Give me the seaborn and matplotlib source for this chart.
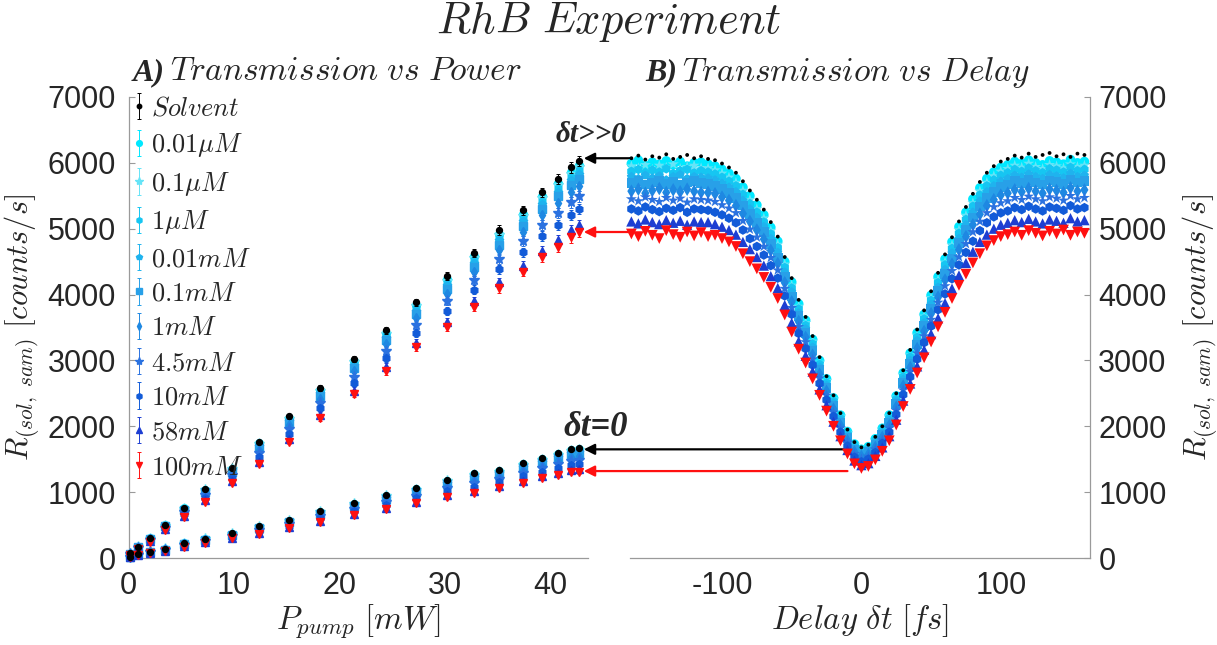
import numpy as np
import pandas as pd
import matplotlib
matplotlib.use("Agg")
import matplotlib.pyplot as plt
import seaborn as sns

# ---------------- data ----------------
labels = [r'$Solvent$', r'$0.01\mu M$', r'$0.1\mu M$', r'$1\mu M$', r'$0.01mM$', r'$0.1mM$',
          r'$1mM$', r'$4.5mM$', r'$10mM$', r'$58mM$', r'$100mM$']
colors = ['black', '#00e8ff', '#66e4f7', '#16c6f2', '#1fb3ee', '#28a0e8',
          '#1e88e2', '#2b72e0', '#125bd8', '#1d3ed2', '#ff1010']
markers = ['.', 'o', '*', 'h', 'p', 's', 'd', '*', 'h', '^', 'v']

# Panel A: pump power [mW]
power = [0.1, 0.9, 2.0, 3.5, 5.3, 7.3, 9.8, 12.4, 15.2, 18.2, 21.4, 24.4, 27.3, 30.2,
         32.8, 35.2, 37.4, 39.2, 40.8, 42.0, 42.7]
err_high = [10, 10, 15, 15, 20, 25, 30, 35, 40, 45, 50, 55, 60, 60, 65, 70, 70, 75, 75, 80, 80]
err_low = [5, 5, 8, 8, 10, 10, 12, 14, 15, 18, 20, 22, 24, 25, 26, 28, 30, 30, 32, 32, 34]

# delay >> 0
high_solvent = [70, 170, 300, 500, 760, 1050, 1370, 1760, 2150, 2580, 3020, 3460, 3880, 4280, 4630, 4980, 5280, 5550, 5750, 5930, 6030]
high_001uM = [68, 168, 297, 495, 752, 1038, 1356, 1740, 2127, 2553, 2988, 3423, 3839, 4234, 4581, 4927, 5224, 5491, 5688, 5866, 5965]
high_01uM = [68, 167, 295, 493, 748, 1032, 1349, 1730, 2115, 2539, 2972, 3404, 3819, 4211, 4557, 4901, 5196, 5462, 5657, 5835, 5933]
high_1uM = [67, 165, 293, 490, 742, 1025, 1340, 1716, 2100, 2521, 2951, 3379, 3792, 4180, 4524, 4866, 5158, 5423, 5616, 5792, 5890]
high_001mM = [66, 164, 291, 487, 736, 1015, 1329, 1700, 2081, 2498, 2925, 3348, 3758, 4141, 4483, 4822, 5112, 5374, 5565, 5739, 5836]
high_01mM = [64, 161, 288, 481, 726, 1001, 1313, 1676, 2054, 2466, 2888, 3305, 3710, 4088, 4426, 4760, 5046, 5305, 5493, 5665, 5760]
high_1mM = [61, 158, 283, 474, 713, 982, 1290, 1643, 2015, 2421, 2835, 3243, 3642, 4010, 4345, 4672, 4953, 5207, 5390, 5559, 5652]
high_45mM = [58, 153, 275, 463, 693, 953, 1255, 1593, 1958, 2353, 2755, 3150, 3540, 3895, 4223, 4540, 4813, 5060, 5235, 5400, 5490]
high_10mM = [53, 146, 266, 449, 668, 917, 1214, 1532, 1888, 2271, 2660, 3038, 3418, 3756, 4076, 4382, 4644, 4884, 5050, 5209, 5296]
high_58mM = [48, 139, 255, 433, 639, 875, 1163, 1459, 1804, 2171, 2543, 2902, 3268, 3587, 3897, 4188, 4439, 4668, 4823, 4976, 5058]
high_100mM = [45, 135, 250, 425, 625, 855, 1140, 1425, 1765, 2125, 2490, 2840, 3200, 3510, 3815, 4100, 4345, 4570, 4720, 4870, 4950]

# delay = 0
low_solvent = [20, 60, 95, 135, 225, 290, 375, 485, 575, 715, 830, 955, 1060, 1185, 1290, 1335, 1440, 1515, 1600, 1655, 1670]
low_001uM = [20, 59, 94, 133, 222, 286, 370, 478, 568, 705, 819, 942, 1046, 1170, 1272, 1319, 1422, 1497, 1580, 1634, 1648]
low_01uM = [20, 59, 93, 132, 220, 285, 368, 474, 564, 700, 814, 936, 1039, 1162, 1263, 1310, 1413, 1488, 1569, 1623, 1638]
low_1uM = [19, 58, 92, 131, 218, 282, 365, 469, 559, 694, 807, 928, 1030, 1152, 1250, 1299, 1402, 1475, 1556, 1609, 1623]
low_001mM = [19, 57, 91, 130, 215, 279, 362, 463, 553, 685, 798, 917, 1019, 1139, 1235, 1286, 1387, 1460, 1539, 1591, 1605]
low_01mM = [19, 56, 90, 128, 211, 275, 356, 455, 545, 674, 785, 903, 1003, 1121, 1214, 1266, 1366, 1439, 1515, 1566, 1580]
low_1mM = [18, 55, 88, 125, 206, 269, 349, 443, 533, 657, 767, 882, 980, 1096, 1183, 1239, 1337, 1408, 1481, 1531, 1544]
low_45mM = [18, 53, 85, 120, 198, 260, 338, 425, 515, 633, 740, 850, 945, 1058, 1138, 1198, 1293, 1363, 1430, 1478, 1490]
low_10mM = [17, 50, 81, 115, 188, 249, 324, 403, 493, 603, 708, 812, 904, 1012, 1083, 1148, 1239, 1308, 1369, 1414, 1425]
low_58mM = [16, 47, 77, 108, 176, 236, 308, 377, 467, 566, 668, 766, 853, 956, 1016, 1088, 1174, 1241, 1294, 1335, 1346]
low_100mM = [15, 45, 75, 105, 170, 230, 300, 365, 455, 550, 650, 745, 830, 930, 985, 1060, 1145, 1210, 1260, 1300, 1310]

# Panel B: delay scan [fs]
delay = list(range(-165, 161, 5))
d_solvent = [6070, 6110, 6050, 6100, 6080, 6130, 6060, 6090, 6120, 6070, 6100,
             6060, 6040, 5990, 5930, 5850, 5720, 5580, 5440, 5290, 5100, 4880, 4570, 4250, 3920, 3660,
             3370, 3050, 2760, 2470, 2200, 1950, 1760, 1680, 1720, 1840, 2000, 2200, 2500, 2850, 3160,
             3470, 3760, 4050, 4330, 4610, 4870, 5110, 5330, 5530, 5710, 5850, 5950, 6020, 6060,
             6110, 6080, 6140, 6090, 6120, 6150, 6100, 6130, 6090, 6140, 6120]
d_001uM = [5990, 6040, 5960, 6010, 5980, 6030, 5970, 6020, 5950, 6000, 6010,
           5980, 5950, 5900, 5840, 5760, 5630, 5500, 5360, 5210, 5020, 4810, 4500, 4190, 3860, 3610,
           3320, 3000, 2720, 2430, 2170, 1920, 1730, 1650, 1690, 1810, 1970, 2170, 2460, 2810, 3110,
           3420, 3700, 3990, 4270, 4540, 4800, 5030, 5250, 5450, 5620, 5760, 5860, 5930, 5970,
           6020, 5990, 6040, 6000, 5970, 6030, 6010, 5980, 6050, 6000, 6020]
d_01uM = [5950, 5920, 5970, 5900, 5960, 5930, 5980, 5910, 5940, 5960, 5920,
          5920, 5890, 5840, 5780, 5700, 5580, 5440, 5300, 5160, 4970, 4760, 4460, 4140, 3820, 3570,
          3290, 2970, 2690, 2410, 2150, 1900, 1720, 1640, 1680, 1790, 1950, 2150, 2440, 2780, 3080,
          3380, 3670, 3950, 4220, 4490, 4750, 4980, 5200, 5390, 5570, 5700, 5800, 5870, 5910,
          5960, 5930, 5990, 5940, 5910, 5970, 5950, 5920, 5980, 5940, 5960]
d_1uM = [5870, 5900, 5850, 5890, 5860, 5910, 5840, 5880, 5900, 5850, 5880,
         5860, 5830, 5780, 5720, 5650, 5520, 5380, 5250, 5100, 4920, 4710, 4410, 4100, 3780, 3530,
         3250, 2940, 2660, 2380, 2120, 1880, 1700, 1620, 1660, 1780, 1930, 2120, 2410, 2750, 3050,
         3350, 3630, 3910, 4180, 4450, 4700, 4930, 5140, 5340, 5510, 5650, 5740, 5810, 5850,
         5900, 5870, 5920, 5880, 5850, 5910, 5890, 5860, 5930, 5880, 5900]
d_001mM = [5790, 5760, 5810, 5770, 5800, 5740, 5790, 5820, 5760, 5790, 5780,
           5770, 5740, 5690, 5630, 5560, 5430, 5300, 5170, 5030, 4850, 4640, 4340, 4040, 3720, 3480,
           3200, 2900, 2620, 2350, 2090, 1850, 1670, 1600, 1630, 1750, 1900, 2090, 2380, 2710, 3000,
           3300, 3570, 3850, 4110, 4380, 4630, 4850, 5060, 5250, 5420, 5560, 5650, 5720, 5760,
           5810, 5780, 5830, 5790, 5760, 5820, 5800, 5770, 5840, 5790, 5810]
d_01mM = [5690, 5720, 5670, 5700, 5730, 5680, 5710, 5660, 5700, 5720, 5690,
          5680, 5650, 5600, 5540, 5470, 5350, 5220, 5090, 4950, 4770, 4560, 4270, 3970, 3670, 3420,
          3150, 2850, 2580, 2310, 2060, 1820, 1650, 1570, 1610, 1720, 1870, 2060, 2340, 2660, 2950,
          3240, 3520, 3790, 4050, 4310, 4550, 4780, 4980, 5170, 5340, 5470, 5560, 5630, 5670,
          5720, 5690, 5740, 5700, 5670, 5730, 5710, 5680, 5750, 5700, 5720]
d_1mM = [5570, 5600, 5540, 5580, 5610, 5550, 5590, 5560, 5600, 5570, 5550,
         5550, 5530, 5480, 5430, 5350, 5230, 5110, 4980, 4840, 4670, 4470, 4180, 3890, 3590, 3350,
         3080, 2790, 2530, 2260, 2010, 1780, 1610, 1540, 1570, 1680, 1830, 2010, 2290, 2610, 2890,
         3180, 3440, 3710, 3960, 4220, 4460, 4680, 4880, 5060, 5220, 5350, 5440, 5510, 5540,
         5590, 5560, 5610, 5570, 5540, 5600, 5580, 5550, 5620, 5570, 5590]
d_45mM = [5450, 5420, 5480, 5440, 5410, 5470, 5430, 5460, 5400, 5450, 5440,
          5430, 5410, 5360, 5310, 5240, 5120, 4990, 4870, 4730, 4560, 4370, 4090, 3800, 3510, 3280,
          3020, 2730, 2470, 2210, 1970, 1750, 1580, 1500, 1540, 1650, 1790, 1970, 2240, 2550, 2830,
          3110, 3370, 3620, 3880, 4130, 4360, 4570, 4770, 4950, 5110, 5240, 5330, 5390, 5420,
          5470, 5440, 5490, 5450, 5420, 5480, 5460, 5430, 5500, 5450, 5470]
d_10mM = [5300, 5270, 5330, 5290, 5260, 5310, 5280, 5320, 5250, 5300, 5290,
          5280, 5250, 5210, 5160, 5090, 4980, 4850, 4730, 4600, 4440, 4250, 3980, 3700, 3410, 3180,
          2930, 2650, 2400, 2150, 1910, 1700, 1530, 1460, 1500, 1600, 1740, 1910, 2180, 2480, 2750,
          3020, 3270, 3520, 3770, 4010, 4240, 4450, 4640, 4810, 4970, 5090, 5180, 5240, 5270,
          5320, 5290, 5340, 5300, 5270, 5330, 5310, 5280, 5350, 5300, 5320]
d_58mM = [5110, 5080, 5140, 5100, 5070, 5130, 5090, 5120, 5060, 5110, 5100,
          5100, 5070, 5030, 4980, 4910, 4800, 4690, 4570, 4440, 4280, 4100, 3840, 3570, 3290, 3070,
          2830, 2560, 2320, 2070, 1850, 1640, 1480, 1410, 1440, 1550, 1680, 1850, 2100, 2390, 2650,
          2910, 3160, 3400, 3640, 3870, 4090, 4290, 4480, 4650, 4800, 4910, 5000, 5060, 5090,
          5130, 5100, 5150, 5110, 5080, 5140, 5120, 5090, 5160, 5110, 5130]
d_100mM = [4920, 4880, 4960, 4900, 4850, 4970, 4910, 4870, 4950, 4890, 4940,
           4880, 4900, 4850, 4800, 4730, 4620, 4500, 4390, 4260, 4110, 3940, 3690, 3430, 3170, 2960,
           2720, 2470, 2230, 2000, 1780, 1580, 1430, 1360, 1390, 1490, 1620, 1780, 2020, 2300, 2560,
           2810, 3040, 3280, 3510, 3730, 3940, 4140, 4310, 4480, 4620, 4740, 4820, 4880, 4910,
           4950, 4900, 4970, 4930, 4890, 4960, 4920, 4980, 4900, 4950, 4930]

high = [high_solvent, high_001uM, high_01uM, high_1uM, high_001mM, high_01mM,
        high_1mM, high_45mM, high_10mM, high_58mM, high_100mM]
low = [low_solvent, low_001uM, low_01uM, low_1uM, low_001mM, low_01mM,
       low_1mM, low_45mM, low_10mM, low_58mM, low_100mM]
scan = [d_solvent, d_001uM, d_01uM, d_1uM, d_001mM, d_01mM,
        d_1mM, d_45mM, d_10mM, d_58mM, d_100mM]

# ---------------- style ----------------
sns.set_theme(style="white")
plt.rcParams['font.family'] = ['Liberation Sans', 'DejaVu Sans']
plt.rcParams['mathtext.fontset'] = 'cm'
plt.rcParams['axes.unicode_minus'] = False

W, H = 1217, 645
fig = plt.figure(figsize=(W / 100, H / 100), dpi=100)
fig.patch.set_facecolor('white')
ax1 = fig.add_axes([128.5 / W, 1 - 558 / H, 459.5 / W, 461 / H])
ax2 = fig.add_axes([630 / W, 1 - 558 / H, 460 / W, 461 / H])
ax1.patch.set_visible(False)
ax2.patch.set_visible(False)

spine_c = '#9a9a9a'
tick_c = '#262626'

# ---------------- Panel A ----------------
ms_map = {'.': 8.5, '*': 8}
handles = []
for i, lab in enumerate(labels):
    m = markers[i]
    ms = ms_map.get(m, 5.5)
    eb = ax1.errorbar(power, high[i], yerr=err_high, fmt=m, color=colors[i], ms=ms,
                      mec=colors[i], capsize=1.5, elinewidth=0.7, capthick=0.7,
                      label=lab, clip_on=False, zorder=3 + (i == 0))
    ax1.errorbar(power, low[i], yerr=err_low, fmt=m, color=colors[i], ms=ms,
                 mec=colors[i], capsize=1.5, elinewidth=0.7, capthick=0.7,
                 clip_on=False, zorder=3 + (i == 0))
    handles.append(eb)

ax1.set_xlim(0, 43.6)
ax1.set_ylim(0, 7000)
ax1.set_xticks([0, 10, 20, 30, 40])
ax1.set_yticks(range(0, 7001, 1000))

leg = ax1.legend(handles, labels, loc='upper left', bbox_to_anchor=(-0.005, 1.013),
                 frameon=False, fontsize=19, handlelength=0.55, handletextpad=0.2,
                 labelspacing=0.405, borderaxespad=0.0, borderpad=0.2, markerscale=0.75)

# ---------------- Panel B ----------------
order = list(range(1, 11)) + [0]
rows = []
for i in order:
    for d, v in zip(delay, scan[i]):
        rows.append((d, v, labels[i]))
df = pd.DataFrame(rows, columns=['delay', 'R', 'conc'])
pal = {labels[i]: colors[i] for i in range(11)}
mk = {labels[i]: markers[i] for i in range(11)}
sz = {labels[i]: 48 for i in range(11)}
sz[labels[0]] = 30
sz[labels[10]] = 60
sz[labels[2]] = 70
sz[labels[7]] = 70
sz[labels[9]] = 55
sns.scatterplot(data=df, x='delay', y='R', hue='conc', style='conc', size='conc',
                palette=pal, markers=mk, sizes=sz, hue_order=[labels[i] for i in order],
                linewidth=0, legend=False, ax=ax2, clip_on=False)
ax2.set_xlim(-166, 164)
ax2.set_ylim(0, 7000)
ax2.set_xticks([-100, 0, 100])
ax2.set_yticks(range(0, 7001, 1000))
ax2.yaxis.tick_right()
ax2.yaxis.set_label_position('right')

# ---------------- axes styling ----------------
for ax in (ax1, ax2):
    for s in ax.spines.values():
        s.set_color(spine_c)
        s.set_linewidth(0.9)
    ax.spines['top'].set_visible(False)
    ax.tick_params(direction='in', length=4, width=0.8, color=spine_c,
                   labelsize=22, labelcolor=tick_c)
    ax.tick_params(axis='x', pad=9)
ax1.spines['right'].set_visible(False)
ax2.spines['left'].set_visible(False)
ax1.tick_params(axis='y', pad=9, left=True)
ax2.tick_params(axis='y', pad=6, right=True, left=False)

ylab = r'$R_{(sol,\ sam)}\ [counts/s]$'
ax1.set_ylabel(ylab, fontsize=22)
ax1.yaxis.set_label_coords(-0.19, 0.5)
ax2.set_ylabel(ylab, fontsize=22, rotation=90)
ax2.yaxis.set_label_coords(1.195, 0.5)
ax1.set_xlabel(r'$P_{pump}\ [mW]$', fontsize=23.5, labelpad=1)
ax2.set_xlabel(r'$Delay\ \delta t\ [fs]$', fontsize=23.5, labelpad=1)

# ---------------- titles ----------------
fig.text(0.5, 1 - 22 / H, r'$RhB\ Experiment$', ha='center', va='center', fontsize=32)
fig.text(133 / W, 1 - 73 / H, 'A)', ha='left', va='center', fontsize=23,
         family='Liberation Serif', weight='bold', style='italic')
fig.text(170 / W, 1 - 72 / H, r'$Transmission\ vs\ Power$', ha='left', va='center', fontsize=24)
fig.text(645 / W, 1 - 73 / H, 'B)', ha='left', va='center', fontsize=23,
         family='Liberation Serif', weight='bold', style='italic')
fig.text(682 / W, 1 - 72 / H, r'$Transmission\ vs\ Delay$', ha='left', va='center', fontsize=24)

# ---------------- annotations ----------------
fig.text(556 / W, 1 - 135 / H, 'δt>>0', ha='left', va='center', fontsize=21,
         family='Liberation Serif', weight='bold', style='italic')
fig.text(563 / W, 1 - 428 / H, 'δt=0', ha='left', va='center', fontsize=25,
         family='Liberation Serif', weight='bold', style='italic')

arrow_pairs = [((-166, 6070), 'black'), ((-166, 4950), '#ff1010'),
               ((0, 1650), 'black'), ((-10, 1320), '#ff1010')]
for (x0, y0), c in arrow_pairs:
    ax1.annotate('', xy=(43.2, y0), xycoords=ax1.transData,
                 xytext=(x0, y0), textcoords=ax2.transData,
                 arrowprops=dict(arrowstyle='-|>', color=c, lw=1.6, mutation_scale=16,
                                 shrinkA=0, shrinkB=0),
                 annotation_clip=False, zorder=10)

fig.savefig('out.png', dpi=100, facecolor='white')
